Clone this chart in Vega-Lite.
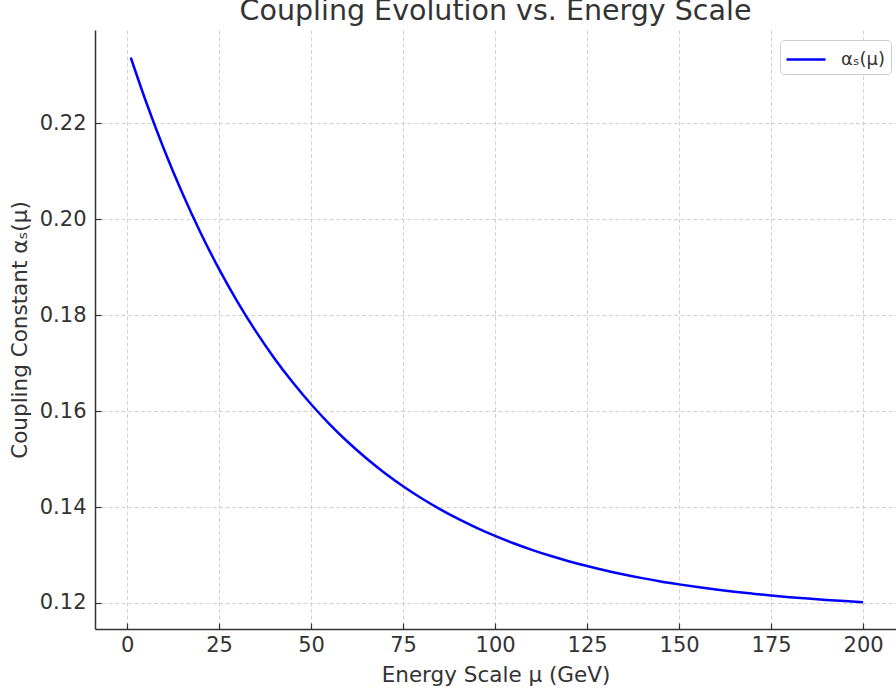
{
  "$schema": "https://vega.github.io/schema/vega-lite/v6.json",
  "autosize": {"type": "none"},
  "padding": {"left": 95, "top": 30, "right": 0, "bottom": 65},
  "width": 801,
  "height": 599,
  "background": "white",
  "config": {
    "font": "DejaVu Sans",
    "view": {"stroke": null},
    "axis": {
      "domainColor": "#333333",
      "domainWidth": 1.5,
      "tickColor": "#333333",
      "tickWidth": 1.2,
      "tickSize": -6,
      "labelColor": "#333333",
      "labelFontSize": 21,
      "labelFont": "DejaVu Sans",
      "titleFont": "DejaVu Sans",
      "titleFontSize": 21.5,
      "titleFontWeight": "normal",
      "titleColor": "#333333",
      "gridColor": "#cccccc",
      "gridWidth": 0.9,
      "gridDash": [4, 2.5]
    }
  },
  "title": {
    "text": "Coupling Evolution vs. Energy Scale",
    "fontSize": 28.5,
    "fontWeight": "normal",
    "color": "#333333",
    "font": "DejaVu Sans",
    "anchor": "middle",
    "frame": "group",
    "baseline": "bottom",
    "offset": 6,
    "dy": 30
  },
  "data": {
    "values": [
      {"mu": 1, "alpha": 0.23366},
      {"mu": 5, "alpha": 0.22477},
      {"mu": 10, "alpha": 0.21461},
      {"mu": 15, "alpha": 0.20542},
      {"mu": 20, "alpha": 0.19710},
      {"mu": 25, "alpha": 0.18957},
      {"mu": 30, "alpha": 0.18276},
      {"mu": 35, "alpha": 0.17660},
      {"mu": 40, "alpha": 0.17102},
      {"mu": 45, "alpha": 0.16598},
      {"mu": 50, "alpha": 0.16141},
      {"mu": 55, "alpha": 0.15728},
      {"mu": 60, "alpha": 0.15354},
      {"mu": 65, "alpha": 0.15016},
      {"mu": 70, "alpha": 0.14710},
      {"mu": 75, "alpha": 0.14433},
      {"mu": 80, "alpha": 0.14182},
      {"mu": 85, "alpha": 0.13956},
      {"mu": 90, "alpha": 0.13751},
      {"mu": 95, "alpha": 0.13565},
      {"mu": 100, "alpha": 0.13397},
      {"mu": 105, "alpha": 0.13245},
      {"mu": 110, "alpha": 0.13108},
      {"mu": 115, "alpha": 0.12983},
      {"mu": 120, "alpha": 0.12871},
      {"mu": 125, "alpha": 0.12769},
      {"mu": 130, "alpha": 0.12676},
      {"mu": 135, "alpha": 0.12593},
      {"mu": 140, "alpha": 0.12518},
      {"mu": 145, "alpha": 0.12449},
      {"mu": 150, "alpha": 0.12388},
      {"mu": 155, "alpha": 0.12332},
      {"mu": 160, "alpha": 0.12281},
      {"mu": 165, "alpha": 0.12235},
      {"mu": 170, "alpha": 0.12194},
      {"mu": 175, "alpha": 0.12156},
      {"mu": 180, "alpha": 0.12122},
      {"mu": 185, "alpha": 0.12092},
      {"mu": 190, "alpha": 0.12064},
      {"mu": 195, "alpha": 0.12039},
      {"mu": 200, "alpha": 0.12016}
    ]
  },
  "mark": {"type": "line", "strokeWidth": 2.5, "interpolate": "monotone", "clip": true},
  "encoding": {
    "x": {
      "field": "mu",
      "type": "quantitative",
      "scale": {"domain": [-8.72, 208.95], "nice": false, "zero": false},
      "axis": {
        "values": [0, 25, 50, 75, 100, 125, 150, 175, 200],
        "title": "Energy Scale μ (GeV)",
        "labelPadding": 11,
        "titlePadding": 9,
        "grid": true
      }
    },
    "y": {
      "field": "alpha",
      "type": "quantitative",
      "scale": {"domain": [0.11458, 0.2394], "nice": false, "zero": false},
      "axis": {
        "values": [0.12, 0.14, 0.16, 0.18, 0.20, 0.22],
        "format": ".2f",
        "title": "Coupling Constant αₛ(μ)",
        "labelPadding": 15,
        "titlePadding": 8,
        "grid": true
      }
    },
    "color": {
      "datum": "αₛ(μ)",
      "type": "nominal",
      "scale": {"range": ["#0000ff"]},
      "legend": {
        "title": null,
        "orient": "none",
        "legendX": 685,
        "legendY": 10,
        "padding": 5,
        "strokeColor": "#cccccc",
        "fillColor": "white",
        "cornerRadius": 4,
        "symbolType": "M-1,0H2",
        "symbolSize": 676,
        "symbolStrokeWidth": 2.5,
        "labelFontSize": 18,
        "labelColor": "#333333",
        "labelFont": "DejaVu Sans",
        "labelOffset": 27
      }
    }
  }
}
